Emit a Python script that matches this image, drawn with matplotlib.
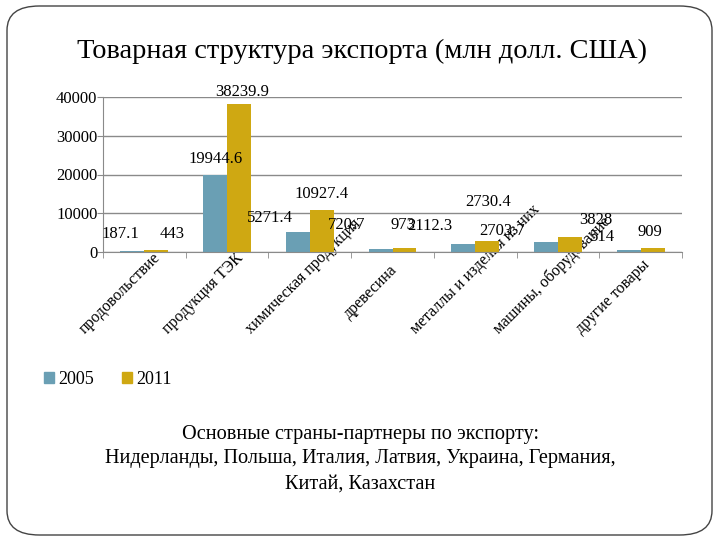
import matplotlib
matplotlib.use("Agg")
import matplotlib.pyplot as plt
import matplotlib.transforms as mtransforms
from matplotlib.patches import FancyBboxPatch, Patch
import numpy as np

plt.rcParams["font.family"] = ["Liberation Serif", "DejaVu Serif"]

categories = ["продовольствие", "продукция ТЭК", "химическая продукция",
              "древесина", "металлы и изделия из них", "машины, оборудование",
              "другие товары"]
exp_2005 = [187.1, 19944.6, 5271.4, 720.7, 2112.3, 2703.7, 514]
exp_2011 = [443, 38239.9, 10927.4, 973, 2730.4, 3828, 909]
labels_2005 = ["187.1", "19944.6", "5271.4", "720.7", "2112.3", "2703.7", "514"]
labels_2011 = ["443", "38239.9", "10927.4", "973", "2730.4", "3828", "909"]

# label offsets (pixels) as placed in the original chart
off_2005 = [(-12, 17), (1, 16), (-28, 14), (-34, 24), (-33, 18), (-44, 11), (-26, 13)]
off_2011 = [(16, 16), (3, 12), (0, 16), (-2, 23), (1, 39), (26, 17), (-3, 16)]
# extra shift of rotated category labels (pixels)
cat_shift = [(0, 0), (0, 0), (0, 0), (16, 15), (0, 0), (0, 0), (0, 0)]

c2005 = "#6a9fb4"
c2011 = "#cfa812"
W, H = 720, 540

fig = plt.figure(figsize=(7.2, 5.4), dpi=100)

# slide frame
frame = FancyBboxPatch((7 / W, 5 / H), 705 / W, 529 / H,
                       boxstyle="round,pad=0,rounding_size=0.045",
                       transform=fig.transFigure, fill=False,
                       edgecolor="#444444", linewidth=1.0)
fig.patches.append(frame)

fig.text(362 / W, 1 - 51 / H, "Товарная структура экспорта (млн долл. США)",
         ha="center", va="center", fontsize=20.4)

ax = fig.add_axes([103 / W, 1 - 252 / H, 579 / W, 155 / H])
x = np.arange(len(categories))
bw = 0.29
bars1 = ax.bar(x - bw / 2, exp_2005, bw, color=c2005, zorder=2)
bars2 = ax.bar(x + bw / 2, exp_2011, bw, color=c2011, zorder=2)

for bars, labs, offs in [(bars1, labels_2005, off_2005), (bars2, labels_2011, off_2011)]:
    for b, lab, (dx, dy) in zip(bars, labs, offs):
        ax.annotate(lab, (b.get_x() + b.get_width() / 2, b.get_height()),
                    xytext=(dx, dy), textcoords="offset pixels",
                    ha="center", va="center", fontsize=12)

ax.set_xlim(-0.5, len(categories) - 0.5)
ax.set_ylim(0, 40000)
ax.set_yticks([0, 10000, 20000, 30000, 40000])
ax.yaxis.grid(True, color="#8a8a8a", linewidth=1, zorder=0)
ax.tick_params(axis="y", labelsize=12, length=4, color="#8a8a8a", pad=0)
for s in ["top", "right"]:
    ax.spines[s].set_visible(False)
for s in ["left", "bottom"]:
    ax.spines[s].set_color("#8a8a8a")

ax.set_xticks(x)
ax.set_xticks(np.arange(-0.5, len(categories)), minor=True)
ax.tick_params(axis="x", which="major", length=0, pad=0)
ax.tick_params(axis="x", which="minor", length=4, color="#8a8a8a", direction="out")
ax.set_xticklabels(categories, fontsize=11.5)
for t, (sx, sy) in zip(ax.get_xticklabels(), cat_shift):
    t.set_rotation(45)
    t.set_rotation_mode("anchor")
    t.set_ha("left")
    t.set_va("baseline")
    shift = mtransforms.ScaledTranslation((-59 + sx) / 100, (-82 + sy) / 100,
                                          fig.dpi_scale_trans)
    t.set_transform(t.get_transform() + shift)

fig.legend(handles=[Patch(color=c2005, label="2005"), Patch(color=c2011, label="2011")],
           loc="center left", bbox_to_anchor=(28 / W, 1 - 379 / H), ncol=2,
           frameon=False, fontsize=13, handlelength=0.55, handleheight=0.55,
           handletextpad=0.2, columnspacing=1.6)

fig.text(360 / W, 1 - 459 / H,
         "Основные страны-партнеры по экспорту:\n"
         "Нидерланды, Польша, Италия, Латвия, Украина, Германия,\n"
         "Китай, Казахстан",
         ha="center", va="center", fontsize=14.6, linespacing=1.4)

fig.savefig("out.png", dpi=100)
